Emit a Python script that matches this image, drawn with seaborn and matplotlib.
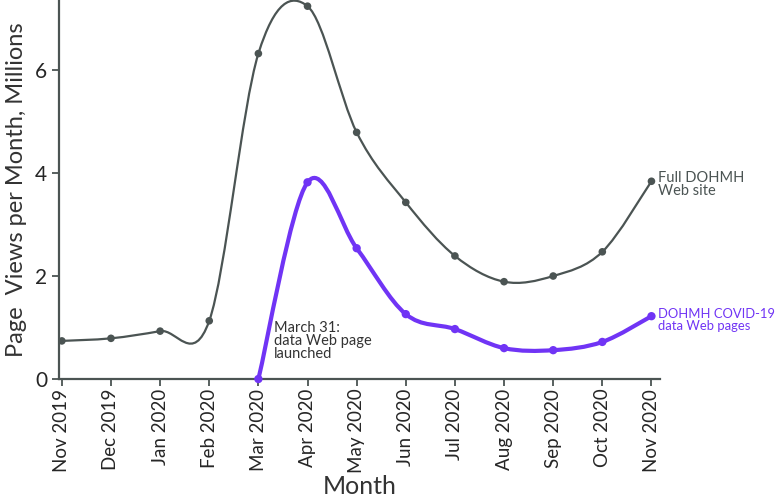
import numpy as np
import pandas as pd
import seaborn as sns
import matplotlib.pyplot as plt
from matplotlib.path import Path
from matplotlib.patches import PathPatch


months = ['Nov 2019', 'Dec 2019', 'Jan 2020', 'Feb 2020', 'Mar 2020', 'Apr 2020',
          'May 2020', 'Jun 2020', 'Jul 2020', 'Aug 2020', 'Sep 2020', 'Oct 2020',
          'Nov 2020']
full_site = [0.74, 0.79, 0.93, 1.13, 6.32, 7.24, 4.79, 3.43, 2.39, 1.89, 2.00, 2.47, 3.84]
covid_months = months[4:]
covid_pages = [0.00, 3.82, 2.54, 1.26, 0.97, 0.60, 0.56, 0.72, 1.22]

gray = '#4b5453'
purple = '#7034f5'
text_col = '#333333'


def smooth_path(x, y):
    # catmull-rom through the points, drawn as cubic bezier segments
    x = np.asarray(x, float)
    y = np.asarray(y, float)
    px = np.concatenate([[x[0]], x, [x[-1]]])
    py = np.concatenate([[y[0]], y, [y[-1]]])
    verts = [(x[0], y[0])]
    codes = [Path.MOVETO]
    for i in range(1, len(px) - 2):
        c1 = (px[i] + (px[i + 1] - px[i - 1]) / 6, py[i] + (py[i + 1] - py[i - 1]) / 6)
        c2 = (px[i + 1] - (px[i + 2] - px[i]) / 6, py[i + 1] - (py[i + 2] - py[i]) / 6)
        verts += [c1, c2, (px[i + 1], py[i + 1])]
        codes += [Path.CURVE4] * 3
    return Path(verts, codes)


df_full = pd.DataFrame({'pos': range(len(months)), 'views': full_site})
df_covid = pd.DataFrame({'pos': [months.index(m) for m in covid_months], 'views': covid_pages})

sns.set_style('ticks')
plt.rcParams['font.family'] = ['Lato', 'DejaVu Sans']

fig = plt.figure(figsize=(7.75, 5.03), dpi=100)
ax = fig.add_axes([0.076, 0.2465, 0.776, 0.7535])

ax.add_patch(PathPatch(smooth_path(df_full['pos'], df_full['views']),
                       facecolor='none', edgecolor=gray, lw=1.6, clip_on=False))
ax.add_patch(PathPatch(smooth_path(df_covid['pos'], df_covid['views']),
                       facecolor='none', edgecolor=purple, lw=3.0, clip_on=False))
sns.scatterplot(data=df_full, x='pos', y='views', ax=ax, color=gray, s=30,
                edgecolor='none', clip_on=False, zorder=3)
sns.scatterplot(data=df_covid, x='pos', y='views', ax=ax, color=purple, s=36,
                edgecolor='none', clip_on=False, zorder=3)

ax.set_xlim(-0.06, 12.18)
ax.set_ylim(0, 7.36)
ax.set_xticks(range(len(months)))
ax.set_xticklabels(months, rotation=90, fontsize=13.5)
ax.set_yticks([0, 2, 4, 6])
ax.tick_params(axis='y', labelsize=15, length=5, width=1.3, color=gray)
ax.tick_params(axis='x', length=5, width=1.3, color=gray, pad=2)
sns.despine(ax=ax)
for s in ['left', 'bottom']:
    ax.spines[s].set_color(gray)
    ax.spines[s].set_linewidth(1.6)

ax.set_xlabel('Month', fontsize=18, color=text_col, labelpad=1)
ax.set_ylabel('Page  Views per Month, Millions', fontsize=17, color=text_col, labelpad=6)

ax.text(12.14, full_site[-1] + 0.2, 'Full DOHMH\nWeb site', fontsize=10.5, color=gray,
        va='top', ha='left', linespacing=0.9)
ax.text(12.14, covid_pages[-1] + 0.15, 'DOHMH COVID-19\ndata Web pages', fontsize=9.4,
        color=purple, va='top', ha='left', linespacing=0.95)
ax.text(4.32, 1.12, 'March 31:\ndata Web page\nlaunched', fontsize=10.5, color=text_col,
        va='top', ha='left', linespacing=0.9)

fig.savefig('out.png', dpi=100)
